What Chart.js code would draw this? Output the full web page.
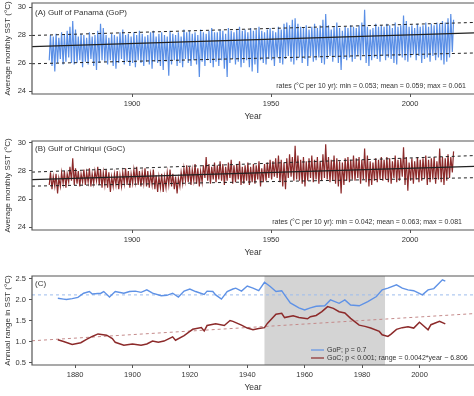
<!DOCTYPE html>
<html>
<head>
<meta charset="utf-8">
<script src="https://cdn.jsdelivr.net/npm/chart.js@4.4.1/dist/chart.umd.min.js"></script>
<style>
html, body { margin: 0; padding: 0; background: #fff; overflow: hidden; }
.panel { position: absolute; left: 0; width: 474px; }
</style>
</head>
<body>
<div class="panel" style="top:0;height:128px"><canvas id="chartA"></canvas></div>
<div class="panel" style="top:128px;height:136px"><canvas id="chartB"></canvas></div>
<div class="panel" style="top:262px;height:137px"><canvas id="chartC"></canvas></div>
<script>
// Monthly SST, one seasonal max and min per year, 1870-2015
const firstYear = 1870;

const gopMax = [
    28.0, 27.9, 28.1, 27.8, 28.2, 28.0, 28.3, 28.6, 29.0, 28.4,
    27.9, 28.1, 28.0, 27.8, 28.2, 27.9, 28.0, 28.3, 28.8, 28.5,
    28.0, 27.8, 28.1, 28.0, 27.9, 28.2, 28.4, 28.0, 28.1, 27.9,
    28.2, 28.0, 28.3, 28.1, 27.9, 28.0, 28.2, 28.3, 27.9, 28.1,
    28.2, 28.0, 27.9, 28.3, 28.1, 28.0, 28.2, 27.9, 28.4, 28.2,
    28.3, 28.1, 28.2, 28.0, 28.4, 28.2, 28.1, 28.3, 28.5, 28.2,
    28.2, 28.4, 28.3, 28.1, 28.5, 28.3, 28.2, 28.4, 28.6, 28.3,
    28.4, 28.2, 28.5, 28.3, 28.4, 28.6, 28.3, 28.2, 28.4, 28.5,
    28.3, 28.2, 28.6, 28.4, 28.8, 28.9, 28.7, 29.1, 29.2, 28.8,
    28.6, 28.5, 28.7, 28.4, 28.6, 28.8, 28.5, 28.7, 29.1, 29.5,
    28.7, 28.4, 28.6, 28.9, 28.5, 28.3, 28.6, 28.5, 28.7, 28.6,
    28.5, 28.7, 28.9, 29.8, 28.6, 28.4, 28.5, 28.8, 28.6, 28.7,
    28.6, 28.8, 28.7, 28.5, 28.9, 28.6, 28.7, 29.4, 29.0, 28.6,
    28.7, 28.5, 28.8, 28.6, 28.7, 28.9, 28.6, 28.8, 28.7, 28.9,
    28.8, 29.0, 28.9, 29.2, 29.5, 29.1
];
const gopMin = [
    26.2, 25.8, 25.4, 26.0, 26.3, 25.9, 26.1, 26.4, 26.0, 25.9,
    26.0, 26.2, 25.7, 26.1, 25.9, 26.3, 25.8, 25.5, 26.0, 26.2,
    26.1, 25.9, 26.2, 25.8, 25.6, 26.0, 26.3, 25.9, 26.1, 25.8,
    26.0, 25.7, 26.2, 26.0, 25.8, 26.1, 25.9, 25.6, 26.1, 26.0,
    25.8, 25.5, 26.1, 25.1, 25.9, 26.2, 25.8, 26.0, 25.7, 26.3,
    26.0, 25.8, 26.2, 25.9, 25.0, 26.1, 25.8, 26.2, 26.0, 25.7,
    26.1, 25.8, 26.2, 25.6, 25.0, 26.0, 26.3, 25.9, 26.1, 25.7,
    26.0, 26.2, 25.7, 25.4, 25.9, 25.3, 26.2, 26.0, 25.9, 26.3,
    26.2, 25.8, 26.4, 26.0, 25.9, 26.3, 26.5, 26.1, 25.9, 26.2,
    26.4, 26.0, 26.3, 25.8, 26.5, 26.1, 26.2, 26.4, 26.0, 25.9,
    26.3, 26.5, 26.1, 26.4, 26.0, 25.5, 26.3, 26.2, 26.4, 26.1,
    26.3, 26.5, 26.2, 26.6, 26.0, 25.8, 26.2, 26.4, 26.3, 26.1,
    26.5, 26.2, 26.4, 26.3, 26.0, 25.9, 26.5, 26.4, 26.2, 26.1,
    26.4, 26.6, 26.2, 26.5, 26.0, 26.3, 26.4, 26.1, 26.5, 26.2,
    26.4, 26.2, 25.9, 26.1, 26.4, 26.8
];
const gocMax = [
    27.9, 27.6, 27.8, 27.5, 27.9, 28.0, 27.8, 28.3, 28.9, 28.2,
    28.0, 27.8, 28.1, 27.9, 28.2, 27.8, 28.0, 28.3, 28.1, 27.9,
    28.1, 27.9, 27.6, 27.8, 28.0, 27.7, 27.9, 28.2, 28.0, 27.8,
    28.1, 28.3, 28.0, 27.9, 28.2, 28.0, 27.8, 28.1, 27.7, 27.6,
    27.8, 27.6, 27.9, 28.1, 27.8, 27.6, 27.5, 27.9, 28.2, 28.4,
    28.3, 28.1, 28.5, 28.2, 28.0, 28.4, 29.0, 28.5, 28.3, 28.6,
    28.4, 28.7, 28.5, 28.3, 28.6, 28.8, 28.4, 28.5, 28.7, 28.3,
    28.4, 28.6, 28.3, 28.5, 28.4, 28.7, 28.2, 28.5, 28.6, 28.8,
    28.7, 28.9, 29.1, 28.8, 28.6, 28.9, 29.2, 29.0, 29.8, 29.1,
    28.8, 29.0, 28.7, 28.9, 29.1, 28.8, 29.0, 28.7, 29.2, 29.9,
    29.0, 28.8, 29.1, 28.9, 28.7, 28.6, 28.9, 29.0, 28.8, 29.1,
    28.9, 29.0, 28.8, 29.6, 29.1, 28.7, 28.6, 28.9, 28.8, 29.0,
    28.8, 29.0, 28.9, 28.7, 29.1, 28.8, 28.9, 29.7, 29.0, 28.6,
    28.9, 28.7, 29.0, 28.8, 28.9, 29.1, 28.8, 28.9, 29.0, 28.7,
    29.6, 29.0, 28.9, 29.2, 29.0, 29.4
];
const gocMin = [
    27.0, 26.7, 26.9, 26.4, 26.9, 27.1, 26.8, 27.2, 27.3, 27.0,
    27.1, 26.9, 27.2, 27.0, 27.2, 26.9, 27.1, 27.3, 27.0, 26.8,
    27.0, 26.8, 26.5, 26.9, 27.0, 26.7, 26.9, 27.1, 27.0, 26.8,
    27.1, 27.2, 27.0, 26.9, 27.1, 26.9, 26.8, 27.0, 26.7, 26.5,
    26.8, 26.5, 26.8, 27.0, 26.9, 26.7, 26.4, 26.9, 27.1, 27.3,
    27.2, 27.0, 27.3, 27.1, 26.9, 27.2, 27.5, 27.3, 27.1, 27.4,
    27.2, 27.4, 27.3, 27.0, 27.3, 27.5, 27.1, 27.2, 27.4, 27.0,
    27.1, 27.3, 27.0, 27.2, 27.1, 27.4, 26.9, 27.2, 27.3, 27.5,
    27.4, 27.6, 27.5, 27.2, 26.9, 26.7, 27.5, 27.6, 27.3, 27.4,
    27.3, 27.1, 26.9, 27.3, 27.5, 27.2, 27.4, 27.1, 27.3, 27.5,
    27.4, 27.2, 27.3, 27.1, 26.9, 26.4, 27.0, 27.3, 27.2, 27.4,
    27.3, 27.5, 27.1, 27.4, 27.2, 26.9, 27.0, 27.3, 27.2, 27.4,
    27.3, 27.4, 27.2, 27.1, 27.5, 27.2, 27.3, 27.6, 27.0, 26.6,
    27.3, 27.1, 27.4, 27.2, 27.3, 27.5, 27.0, 27.2, 27.4, 27.1,
    27.4, 27.2, 27.0, 27.3, 27.5, 27.9
];

// Trend and envelope lines (panel edges)
const trendYears = [1864, 2023];
const gopTrend = [27.18, 28.15];
const gopUpper = [27.97, 28.90];
const gopLower = [25.95, 26.72];
const gocTrend = [27.38, 28.33];
const gocUpper = [27.92, 29.10];
const gocLower = [26.92, 27.52];

// Annual range in SST
const gopRangeYears = [1874, 1876, 1877, 1879, 1881, 1883, 1885, 1886, 1889, 1890, 1892, 1894, 1897, 1899,
    1901, 1903, 1905, 1907, 1910, 1912, 1914, 1916, 1918, 1920, 1922, 1925, 1926, 1928, 1929, 1931, 1933,
    1935, 1936, 1938, 1940, 1942, 1944, 1946, 1948, 1950, 1952, 1953, 1955, 1958, 1960, 1962, 1964, 1967,
    1969, 1972, 1974, 1976, 1979, 1982, 1985, 1987, 1989, 1992, 1994, 1996, 1998, 2001, 2003, 2005, 2008, 2009];
const gopRange = [2.04, 2.02, 2.01, 2.03, 2.06, 2.16, 2.20, 2.14, 2.16, 2.20, 2.07, 2.20, 2.16, 2.20,
    2.21, 2.18, 2.24, 2.16, 2.10, 2.11, 2.16, 2.07, 2.21, 2.26, 2.20, 2.13, 2.21, 2.20, 2.12, 2.02, 2.20,
    2.26, 2.28, 2.21, 2.33, 2.28, 2.22, 2.42, 2.32, 2.20, 2.22, 2.12, 1.93, 1.81, 1.76, 1.81, 1.85, 1.86,
    2.00, 1.92, 2.00, 1.88, 1.86, 1.96, 2.08, 2.24, 2.28, 2.36, 2.28, 2.24, 2.22, 2.12, 2.24, 2.27, 2.48, 2.45];
const gocRangeYears = [1874, 1876, 1879, 1882, 1884, 1886, 1888, 1891, 1893, 1894, 1897, 1900, 1903, 1905,
    1907, 1909, 1911, 1914, 1915, 1918, 1920, 1921, 1924, 1925, 1926, 1929, 1932, 1934, 1935, 1938, 1940,
    1942, 1944, 1946, 1947, 1950, 1952, 1953, 1956, 1958, 1961, 1962, 1964, 1966, 1968, 1970, 1972, 1974,
    1976, 1979, 1981, 1983, 1986, 1987, 1989, 1990, 1992, 1994, 1996, 1998, 2000, 2001, 2003, 2004, 2007, 2009];
const gocRange = [1.05, 1.01, 0.94, 0.98, 1.06, 1.13, 1.19, 1.16, 1.08, 0.99, 0.92, 0.95, 0.92, 0.95,
    1.02, 0.99, 1.02, 1.12, 1.04, 1.15, 1.25, 1.30, 1.34, 1.26, 1.39, 1.43, 1.39, 1.51, 1.49, 1.40, 1.33,
    1.29, 1.32, 1.34, 1.44, 1.66, 1.68, 1.58, 1.62, 1.58, 1.55, 1.60, 1.63, 1.72, 1.84, 1.80, 1.72, 1.69,
    1.56, 1.40, 1.37, 1.33, 1.25, 1.17, 1.13, 1.18, 1.30, 1.34, 1.36, 1.33, 1.47, 1.41, 1.29, 1.41, 1.49, 1.43];
const rangeLineYears = [1865, 2019];
const gopMeanRange = [2.12, 2.12];
const gocFitRange = [1.027, 1.674];
const shadedYears = [1946, 1988];

const xTicksAB = [1900, 1950, 2000];
const xTicksC = [1880, 1900, 1920, 1940, 1960, 1980, 2000];
const yTicksAB = [24, 26, 28, 30];
const yTicksC = [0.5, 1.0, 1.5, 2.0, 2.5];

const FONT = "'Liberation Sans', Arial, sans-serif";
const TEXT = '#333';

const monthlyPoints = (maxArr, minArr) => {
    const pts = [];
    maxArr.forEach((mx, i) => {
        pts.push({ x: firstYear + i + 0.2, y: minArr[i] });
        pts.push({ x: firstYear + i + 0.65, y: mx });
    });
    return pts;
};
const pairs = (xs, ys) => xs.map((x, i) => ({ x: x, y: ys[i] }));

// Box, shading, labels and notes drawn on the canvas
const panelPlugin = {
    id: 'panel',
    beforeDatasetsDraw(chart, args, opts) {
        if (!opts.shade) return;
        const { ctx, chartArea: a, scales } = chart;
        const x0 = scales.x.getPixelForValue(opts.shade[0]);
        const x1 = scales.x.getPixelForValue(opts.shade[1]);
        ctx.save();
        ctx.fillStyle = '#d4d4d4';
        ctx.fillRect(x0, a.top, x1 - x0, a.bottom - a.top);
        ctx.restore();
    },
    afterDraw(chart, args, opts) {
        const { ctx, chartArea: a } = chart;
        ctx.save();
        ctx.strokeStyle = '#555';
        ctx.lineWidth = 1.2;
        ctx.beginPath();
        ctx.moveTo(a.right + 2, a.top);
        ctx.lineTo(a.left, a.top);
        ctx.lineTo(a.left, a.bottom);
        ctx.lineTo(a.right + 2, a.bottom);
        ctx.stroke();

        ctx.fillStyle = TEXT;
        ctx.textBaseline = 'middle';
        ctx.font = '8px ' + FONT;
        ctx.textAlign = 'left';
        ctx.fillText(opts.label, a.left + 3, a.top + opts.labelDy);

        if (opts.note) {
            ctx.font = '7px ' + FONT;
            ctx.textAlign = 'right';
            ctx.fillText(opts.note, opts.noteRight, a.bottom - 8);
        }
        if (opts.legend) {
            ctx.font = '7px ' + FONT;
            ctx.textAlign = 'left';
            opts.legend.forEach((item, i) => {
                const y = a.bottom - 15 + i * 8;
                ctx.strokeStyle = item.color;
                ctx.lineWidth = 1.2;
                ctx.beginPath();
                ctx.moveTo(a.right - 163, y);
                ctx.lineTo(a.right - 150, y);
                ctx.stroke();
                ctx.fillText(item.text, a.right - 147, y);
            });
        }
        ctx.restore();
    }
};

const makeScales = (xRange, xTicks, yRange, yTicks, yTitle, yFmt) => ({
    x: {
        type: 'linear',
        min: xRange[0],
        max: xRange[1],
        afterBuildTicks: (scale) => { scale.ticks = xTicks.map(v => ({ value: v })); },
        afterFit: (scale) => { scale.height = 34; scale.paddingLeft = 0; scale.paddingRight = 0; },
        grid: { drawOnChartArea: false, drawTicks: true, tickLength: 3, color: '#555' },
        border: { display: false },
        ticks: { padding: 2, color: TEXT, font: { family: FONT, size: 7.5 }, maxRotation: 0, autoSkip: false, callback: v => String(v) },
        title: { display: true, text: 'Year', color: TEXT, font: { family: FONT, size: 8.5 }, padding: { top: 0, bottom: 6 } }
    },
    y: {
        type: 'linear',
        min: yRange[0],
        max: yRange[1],
        afterBuildTicks: (scale) => { scale.ticks = yTicks.map(v => ({ value: v })); },
        afterFit: (scale) => { scale.width = 32; scale.paddingTop = 0; scale.paddingBottom = 0; },
        grid: { drawOnChartArea: false, drawTicks: true, tickLength: 3, color: '#555' },
        border: { display: false },
        ticks: { padding: 3, color: TEXT, font: { family: FONT, size: 7.5 }, callback: yFmt },
        title: { display: true, text: yTitle, color: TEXT, font: { family: FONT, size: 8 }, padding: { top: 3, bottom: 0 } }
    }
});

const baseOptions = (padTop, scales, panel) => ({
    responsive: true,
    maintainAspectRatio: false,
    animation: false,
    layout: { padding: { top: padTop, right: 0, left: 0, bottom: 0 } },
    elements: { point: { radius: 0 }, line: { tension: 0 } },
    scales: scales,
    plugins: { legend: { display: false }, tooltip: { enabled: false }, panel: panel }
});

const refLine = (data, dashed) => ({
    data: data,
    borderColor: '#222',
    borderWidth: dashed ? 1 : 1.3,
    borderDash: dashed ? [3, 3] : [],
    fill: false
});

window.chartA = new Chart(document.getElementById('chartA'), {
    type: 'line',
    data: {
        datasets: [
            refLine(pairs(trendYears, gopTrend), false),
            refLine(pairs(trendYears, gopUpper), true),
            refLine(pairs(trendYears, gopLower), true),
            { data: monthlyPoints(gopMax, gopMin), borderColor: '#5a8fe6', borderWidth: 1.2, fill: false }
        ]
    },
    options: baseOptions(3,
        makeScales([1864, 2023], xTicksAB, [23.79, 30.29], yTicksAB, 'Average monthly SST (°C)', v => String(v)),
        { label: '(A) Gulf of Panamá (GoP)', labelDy: 10, note: 'rates (°C per 10 yr): min = 0.053; mean = 0.059; max = 0.061', noteRight: 466 }),
    plugins: [panelPlugin]
});

window.chartB = new Chart(document.getElementById('chartB'), {
    type: 'line',
    data: {
        datasets: [
            refLine(pairs(trendYears, gocTrend), false),
            refLine(pairs(trendYears, gocUpper), true),
            refLine(pairs(trendYears, gocLower), true),
            { data: monthlyPoints(gocMax, gocMin), borderColor: '#8c2a2a', borderWidth: 1.2, fill: false }
        ]
    },
    options: baseOptions(13,
        makeScales([1864, 2023], xTicksAB, [23.79, 30.14], yTicksAB, 'Average monthly SST (°C)', v => String(v)),
        { label: '(B) Gulf of Chiriquí (GoC)', labelDy: 8, note: 'rates (°C per 10 yr): min = 0.042; mean = 0.063; max = 0.081', noteRight: 462 }),
    plugins: [panelPlugin]
});

window.chartC = new Chart(document.getElementById('chartC'), {
    type: 'line',
    data: {
        datasets: [
            { data: pairs(gopRangeYears, gopRange), borderColor: '#5f92e6', borderWidth: 1.4, fill: false },
            { data: pairs(gocRangeYears, gocRange), borderColor: '#8c2a2a', borderWidth: 1.5, fill: false },
            { data: pairs(rangeLineYears, gopMeanRange), borderColor: '#9dbdee', borderWidth: 1, borderDash: [3, 3], fill: false },
            { data: pairs(rangeLineYears, gocFitRange), borderColor: '#c48a8a', borderWidth: 1, borderDash: [3, 3], fill: false }
        ]
    },
    options: baseOptions(14,
        makeScales([1865, 2019], xTicksC, [0.45, 2.57], yTicksC, 'Annual range in SST (°C)', v => v.toFixed(1)),
        {
            label: '(C)', labelDy: 8, shade: shadedYears,
            legend: [
                { text: 'GoP; p = 0.7', color: '#5f92e6' },
                { text: 'GoC; p < 0.001; range = 0.0042*year − 6.806', color: '#8c2a2a' }
            ]
        }),
    plugins: [panelPlugin]
});
</script>
</body>
</html>
